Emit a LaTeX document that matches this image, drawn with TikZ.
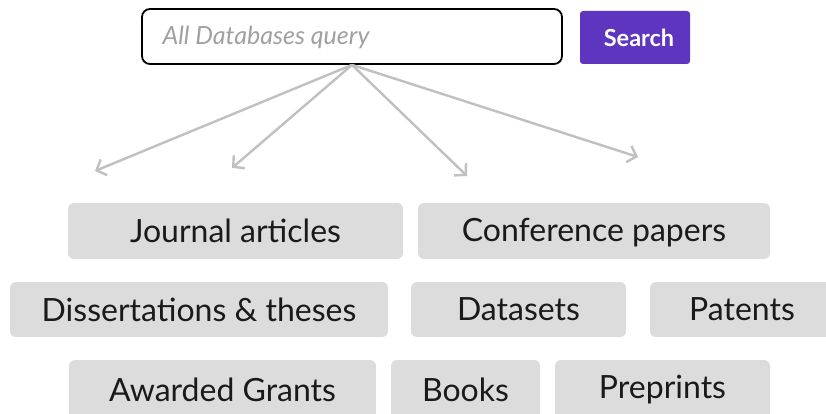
\documentclass[tikz,border=0pt]{standalone}
\usepackage{fontspec}
\setmainfont{Lato}
\usetikzlibrary{arrows.meta}
\definecolor{tagfill}{HTML}{DCDCDC}
\definecolor{searchpurple}{HTML}{5E35BE}
\definecolor{arrowgray}{HTML}{C0C0C0}
\definecolor{hintgray}{HTML}{A0A0A0}
\definecolor{tagtext}{HTML}{1A1A1A}

\begin{document}
\begin{tikzpicture}[x=1pt, y=-1pt,
    tag/.style={fill=tagfill, rounded corners=6pt, inner sep=0pt, text=tagtext, font=\fontsize{32}{34}\selectfont},
    fanout/.style={draw=arrowgray, line width=2.4pt, -{Straight Barb[length=8pt, width=17pt]}}]
    \useasboundingbox (0,0) rectangle (826,414);

    % Search bar
    \node[draw, line width=1.8pt, rounded corners=8pt, minimum width=420pt, minimum height=55pt, inner sep=0pt] (query) at (352,36.5) {};
    \node[anchor=west, text=hintgray, font=\itshape\fontsize{25}{28}\selectfont] (hint) at (159,37) {All Databases query};
    \node[fill=searchpurple, rounded corners=3pt, minimum width=110pt, minimum height=53pt, inner sep=0pt] (search) at (635,37.5) {};
    \node[text=white, font=\bfseries\fontsize{23.5}{26}\selectfont] (searchtext) at (639,38) {Search};

    % Arrow ends
    \coordinate (e1) at (95,171);
    \coordinate (e2) at (232,168);
    \coordinate (e3) at (467,176);
    \coordinate (e4) at (638,157);

    % Nodes
    \node[tag, minimum width=335pt, minimum height=56pt] (journal) at (235.5,231) {Journal articles};
    \node[tag, minimum width=352pt, minimum height=56pt, text depth=0.25em] (conference) at (594,231) {Conference papers};
    \node[tag, minimum width=378pt, minimum height=55pt] (theses) at (199,309.5) {Dissertations \& theses};
    \node[tag, minimum width=215pt, minimum height=55pt] (datasets) at (518.5,309.5) {Datasets};
    \node[tag, minimum width=184pt, minimum height=55pt] (patents) at (742,309.5) {Patents};
    \node[tag, minimum width=307pt, minimum height=60pt] (grants) at (222.5,390) {Awarded Grants};
    \node[tag, minimum width=149pt, minimum height=60pt] (books) at (465.5,390) {Books};
    \node[tag, minimum width=215pt, minimum height=60pt] (preprints) at (662.5,390) {Preprints};

    % Edges
    \foreach \e in {e1,e2,e3,e4}
        \draw[fanout] (query.south) -- (\e);
\end{tikzpicture}
\end{document}
